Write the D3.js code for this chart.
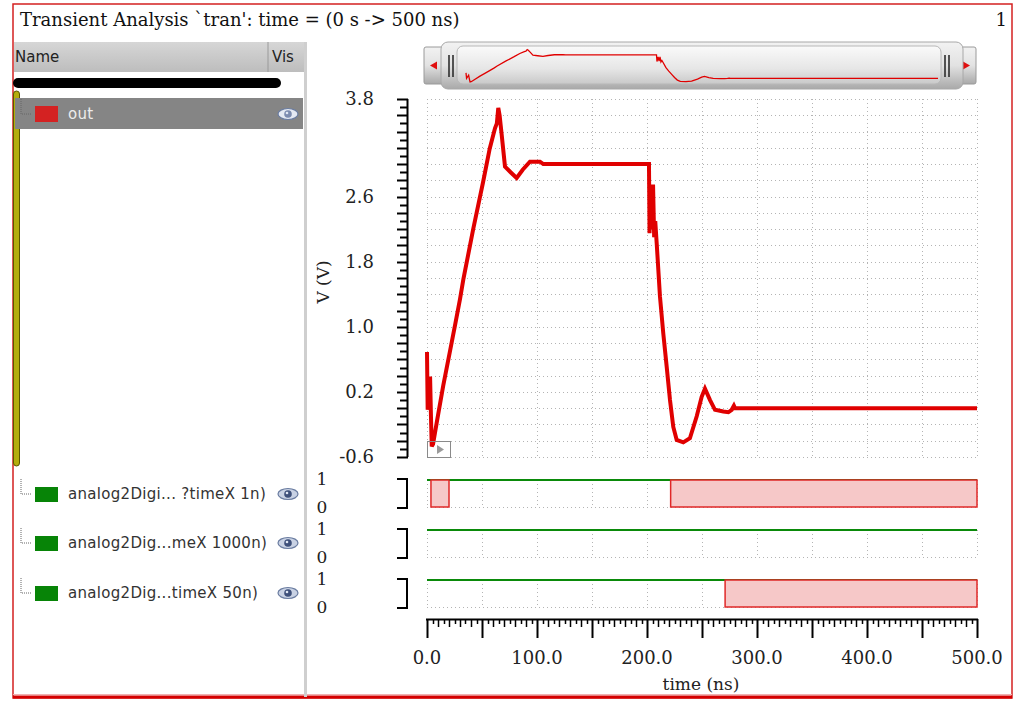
<!DOCTYPE html>
<html><head><meta charset="utf-8">
<script src="https://cdn.jsdelivr.net/npm/d3@7"></script>
<style>
html,body{margin:0;padding:0;background:#fff;}
svg{display:block;}
</style></head>
<body>
<script>
// ---------- data ----------
const titleText = "Transient Analysis `tran': time = (0 s -> 500 ns)";
const timeNs = [0, 0.6, 2.8, 3.6, 4.3, 5.5, 8.8, 14.8, 20.9, 25.5, 30, 33, 42, 51, 57, 61.8, 63.5, 64.8, 66, 67.9, 70.9, 76, 81.5, 87, 93.6, 102.7, 105.7,
  201.8, 202.3, 203.5, 204.5, 205.5, 206.5, 207.5, 208.8, 211.8, 214.8, 217.9, 220.9, 223.9, 227, 233, 239, 245.2, 249.7, 252.7, 257.3, 261.8, 269.4, 274, 277, 279, 280, 500];
const outV = [0.69, -0.02, 0.39, -0.1, -0.47, -0.44, -0.18, 0.28, 0.7, 1.02, 1.34, 1.58, 2.2, 2.78, 3.19, 3.44, 3.5, 3.69, 3.6, 3.36, 2.97, 2.9, 2.83, 2.93, 3.03, 3.03, 3.0,
  3.0, 2.15, 2.75, 2.2, 2.75, 2.1, 2.3, 2.03, 1.37, 0.92, 0.51, 0.1, -0.23, -0.39, -0.42, -0.37, -0.1, 0.14, 0.24, 0.1, -0.02, -0.04, -0.05, -0.02, 0.03, 0.0, 0.0];
const yTickLabels = [3.8, 2.6, 1.8, 1.0, 0.2, -0.6];
const xTickLabels = [0, 100, 200, 300, 400, 500];
const signalNames = ["analog2Digi... ?timeX 1n)", "analog2Dig...meX 1000n)", "analog2Dig...timeX 50n)"];
const digital1Low = [[3.6, 20], [221.5, 500]];
const digital2Low = [];
const digital3Low = [[271, 500]];
const digitalLow = [digital1Low, digital2Low, digital3Low];

// ---------- layout ----------
const W = 1025, H = 707;
const svg = d3.select("body").append("svg").attr("width", W).attr("height", H);
const data = timeNs.map((t, i) => ({t, v: outV[i]}));

const x = d3.scaleLinear().domain([0, 500]).range([427, 977]);
const y = d3.scaleLinear().domain([-0.6, 3.8]).range([457, 99]);
const serif = "'DejaVu Serif', serif";
const sans = "'DejaVu Sans', sans-serif";

// frame
svg.append("rect").attr("x", 13).attr("y", 4).attr("width", 999).attr("height", 694)
  .attr("fill", "#fff").attr("stroke", "#d42020").attr("stroke-width", 1.5);
svg.append("line").attr("x1", 13).attr("x2", 1012).attr("y1", 697).attr("y2", 697).attr("stroke", "#d40000").attr("stroke-width", 3);
svg.append("line").attr("x1", 13).attr("x2", 1012).attr("y1", 694.5).attr("y2", 694.5).attr("stroke", "#f0b0b0").attr("stroke-width", 1);

// title
svg.append("text").attr("x", 20).attr("y", 26).attr("font-family", serif).attr("font-size", 18)
  .attr("fill", "#111").text(titleText);
svg.append("text").attr("x", 1007).attr("y", 26).attr("text-anchor", "end").attr("font-family", serif).attr("font-size", 18)
  .attr("fill", "#111").text("1");

// ---------- left panel ----------
const defs = svg.append("defs");
const hg = defs.append("linearGradient").attr("id", "hdr").attr("x1", 0).attr("x2", 0).attr("y1", 0).attr("y2", 1);
hg.append("stop").attr("offset", "0%").attr("stop-color", "#d6d6d6");
hg.append("stop").attr("offset", "100%").attr("stop-color", "#bdbdbd");
svg.append("rect").attr("x", 14).attr("y", 42).attr("width", 291).attr("height", 30).attr("fill", "url(#hdr)");
svg.append("line").attr("x1", 268).attr("x2", 268).attr("y1", 42).attr("y2", 72).attr("stroke", "#9a9a9a");
svg.append("text").attr("x", 15).attr("y", 62).attr("font-family", sans).attr("font-size", 15).attr("fill", "#222").text("Name");
svg.append("text").attr("x", 272).attr("y", 62).attr("font-family", sans).attr("font-size", 15).attr("fill", "#222").text("Vis");
// panel separator
svg.append("rect").attr("x", 304).attr("y", 42).attr("width", 3).attr("height", 655).attr("fill", "#cfcfcf");
// black bar
svg.append("rect").attr("x", 13).attr("y", 78).attr("width", 268).attr("height", 10).attr("rx", 5).attr("fill", "#000");
// olive scrollbar
svg.append("rect").attr("x", 13.5).attr("y", 91).attr("width", 6).attr("height", 375).attr("rx", 3)
  .attr("fill", "#b3ad0c").attr("stroke", "#5a5600").attr("stroke-width", 1);
// out row
svg.append("rect").attr("x", 15).attr("y", 98).attr("width", 288).attr("height", 31).attr("fill", "#858585");

function treeLines(cy) {
  svg.append("path").attr("d", `M21,${cy - 15}V${cy}H31`).attr("fill", "none")
    .attr("stroke", "#666").attr("stroke-dasharray", "1,1").attr("stroke-width", 1);
}
function eye(cx, cy, light) {
  const g = svg.append("g").attr("transform", `translate(${cx},${cy})`);
  g.append("ellipse").attr("rx", 10).attr("ry", 5.5).attr("fill", light ? "#e4e9f3" : "#c9d2e4").attr("stroke", "#6a7ca0").attr("stroke-width", 1.2);
  g.append("circle").attr("r", 3.8).attr("fill", light ? "#7c8cb0" : "#3e507a");
  g.append("circle").attr("r", 1.3).attr("cx", -1).attr("cy", -1).attr("fill", "#dfe6f3");
}
treeLines(114);
svg.append("rect").attr("x", 35).attr("y", 106).attr("width", 23).attr("height", 16).attr("fill", "#d42222");
svg.append("text").attr("x", 68).attr("y", 119).attr("font-family", sans).attr("font-size", 15)
  .attr("letter-spacing", 0.3).attr("fill", "#ececec").text("out");
eye(288, 114, true);

const rowY = [494, 543, 593];
signalNames.forEach((name, i) => {
  const cy = rowY[i];
  treeLines(cy);
  svg.append("rect").attr("x", 35).attr("y", cy - 7).attr("width", 23).attr("height", 15).attr("fill", "#078407");
  svg.append("text").attr("x", 68).attr("y", cy + 5).attr("font-family", sans).attr("font-size", 15)
    .attr("letter-spacing", 0.3).attr("fill", "#333").text(name);
  eye(288, cy, false);
});

// ---------- overview scrollbar ----------
const sg = defs.append("linearGradient").attr("id", "thumb").attr("x1", 0).attr("x2", 0).attr("y1", 0).attr("y2", 1);
sg.append("stop").attr("offset", "0%").attr("stop-color", "#f2f2f2");
sg.append("stop").attr("offset", "50%").attr("stop-color", "#e2e2e2");
sg.append("stop").attr("offset", "100%").attr("stop-color", "#a9a9a9");
const ig = defs.append("linearGradient").attr("id", "inner").attr("x1", 0).attr("x2", 0).attr("y1", 0).attr("y2", 1);
ig.append("stop").attr("offset", "0%").attr("stop-color", "#fafafa");
ig.append("stop").attr("offset", "60%").attr("stop-color", "#e6e6e6");
ig.append("stop").attr("offset", "100%").attr("stop-color", "#c9c9c9");
svg.append("rect").attr("x", 424).attr("y", 47).attr("width", 22).attr("height", 37).attr("rx", 2)
  .attr("fill", "url(#thumb)").attr("stroke", "#9a9a9a");
svg.append("rect").attr("x", 955).attr("y", 47).attr("width", 21).attr("height", 37).attr("rx", 2)
  .attr("fill", "url(#thumb)").attr("stroke", "#9a9a9a");
svg.append("path").attr("d", "M430,65.5l7,-4v8z").attr("fill", "#e01010");
svg.append("path").attr("d", "M970,65.5l-7,-4v8z").attr("fill", "#e01010");
svg.append("rect").attr("x", 441).attr("y", 42).attr("width", 522).attr("height", 47).attr("rx", 7)
  .attr("fill", "url(#thumb)").attr("stroke", "#a8a8a8");
svg.append("rect").attr("x", 457).attr("y", 46).attr("width", 484).attr("height", 38).attr("rx", 6)
  .attr("fill", "url(#inner)").attr("stroke", "#b8b8b8");
[449, 453, 945, 949].forEach(gx => {
  svg.append("line").attr("x1", gx).attr("x2", gx).attr("y1", 55).attr("y2", 77).attr("stroke", "#222").attr("stroke-width", 1.5);
});
const xo = d3.scaleLinear().domain([0, 500]).range([466, 938]);
const yo = d3.scaleLinear().domain([0, 3.69]).range([78.3, 49.6]);
svg.append("path").datum(data).attr("fill", "none").attr("stroke", "#e00000").attr("stroke-width", 1.3)
  .attr("d", d3.line().x(d => xo(d.t)).y(d => yo(d.v)));

// ---------- main plot grid ----------
const grid = svg.append("g").attr("stroke", "#b4b4b4").attr("stroke-width", 1).attr("stroke-dasharray", "1,3");
const xGrid = d3.range(0, 501, 50);
const yGrid = d3.range(0, 23).map(k => -0.6 + k * 0.2);
xGrid.forEach(t => grid.append("line").attr("x1", Math.round(x(t)) + 0.5).attr("x2", Math.round(x(t)) + 0.5).attr("y1", 99).attr("y2", 457));
yGrid.forEach(v => grid.append("line").attr("x1", 427).attr("x2", 977).attr("y1", Math.round(y(v)) + 0.5).attr("y2", Math.round(y(v)) + 0.5));

// y axis
const yAxis = svg.append("g");
const yMinor = d3.range(0, 45).map(k => -0.6 + k * 0.1);
yAxis.append("line").attr("x1", 407.5).attr("x2", 407.5).attr("y1", 99).attr("y2", 457).attr("stroke", "#000").attr("stroke-width", 2);
yMinor.forEach((v, k) => {
  const yy = Math.round(y(v)) + 0.5;
  yAxis.append("line").attr("x1", k % 2 === 0 ? 397 : 400).attr("x2", 408).attr("y1", yy).attr("y2", yy)
    .attr("stroke", "#000").attr("stroke-width", 2);
});
yTickLabels.forEach(v => {
  yAxis.append("text").attr("x", 374).attr("y", y(v)).attr("dy", "0.35em").attr("text-anchor", "end")
    .attr("font-family", serif).attr("font-size", 18).attr("fill", "#222").text(v.toFixed(1));
});
svg.append("text").attr("transform", "translate(329,282) rotate(-90)").attr("text-anchor", "middle")
  .attr("font-family", serif).attr("font-size", 17).attr("fill", "#222").text("V (V)");

// waveform
svg.append("path").datum(data).attr("fill", "none").attr("stroke", "#e00000").attr("stroke-width", 4)
  .attr("stroke-linejoin", "miter").attr("stroke-miterlimit", 3)
  .attr("d", d3.line().x(d => x(d.t)).y(d => y(d.v)));

// marker box
svg.append("rect").attr("x", 427.5).attr("y", 441.5).attr("width", 23).attr("height", 16).attr("fill", "none").attr("stroke", "#8a8a8a");
svg.append("path").attr("d", "M437,445l7,4.5l-7,4.5z").attr("fill", "#9a9a9a");

// ---------- digital rows ----------
const rowTop = [480, 530, 580];
const rowH = 27;
rowTop.forEach((top, i) => {
  const g = svg.append("g");
  const dg = g.append("g").attr("stroke", "#b4b4b4").attr("stroke-dasharray", "1,3");
  xGrid.forEach(t => dg.append("line").attr("x1", Math.round(x(t)) + 0.5).attr("x2", Math.round(x(t)) + 0.5).attr("y1", top).attr("y2", top + rowH));
  dg.append("line").attr("x1", 427).attr("x2", 977).attr("y1", top + rowH + 0.5).attr("y2", top + rowH + 0.5);
  g.append("line").attr("x1", 427).attr("x2", 977).attr("y1", top).attr("y2", top).attr("stroke", "#0a8a0a").attr("stroke-width", 2);
  digitalLow[i].forEach(([a, b]) => {
    g.append("rect").attr("x", x(a)).attr("y", top).attr("width", x(b) - x(a)).attr("height", rowH)
      .attr("fill", "#f6c8c8").attr("stroke", "#e02828").attr("stroke-width", 1.5);
  });
  // bracket
  g.append("path").attr("d", `M397,${top - 1}H407V${top + rowH + 2}M397,${top + rowH + 1}H407`)
    .attr("fill", "none").attr("stroke", "#000").attr("stroke-width", 2);
  g.append("text").attr("x", 322).attr("y", top - 1).attr("dy", "0.35em").attr("text-anchor", "middle")
    .attr("font-family", serif).attr("font-size", 17).attr("fill", "#222").text("1");
  g.append("text").attr("x", 322).attr("y", top + rowH).attr("dy", "0.35em").attr("text-anchor", "middle")
    .attr("font-family", serif).attr("font-size", 17).attr("fill", "#222").text("0");
});

// ---------- x axis ----------
const xAxis = svg.append("g");
xAxis.append("line").attr("x1", 426).attr("x2", 978).attr("y1", 619.5).attr("y2", 619.5).attr("stroke", "#000").attr("stroke-width", 2);
d3.range(0, 101).map(k => k * 5).forEach(t => {
  const xx = Math.round(x(t)) + 0.5;
  const len = t % 50 === 0 ? 19 : (t % 10 === 0 ? 8 : 5);
  xAxis.append("line").attr("x1", xx).attr("x2", xx).attr("y1", 619).attr("y2", 619 + len)
    .attr("stroke", "#000").attr("stroke-width", t % 50 === 0 ? 2 : 1.5);
});
xTickLabels.forEach(t => {
  xAxis.append("text").attr("x", x(t)).attr("y", 658).attr("dy", "0.35em").attr("text-anchor", "middle")
    .attr("font-family", serif).attr("font-size", 18).attr("fill", "#222").text(t.toFixed(1));
});
svg.append("text").attr("x", 701).attr("y", 684).attr("dy", "0.35em").attr("text-anchor", "middle")
  .attr("font-family", serif).attr("font-size", 17).attr("fill", "#222").text("time (ns)");
</script>
</body></html>
